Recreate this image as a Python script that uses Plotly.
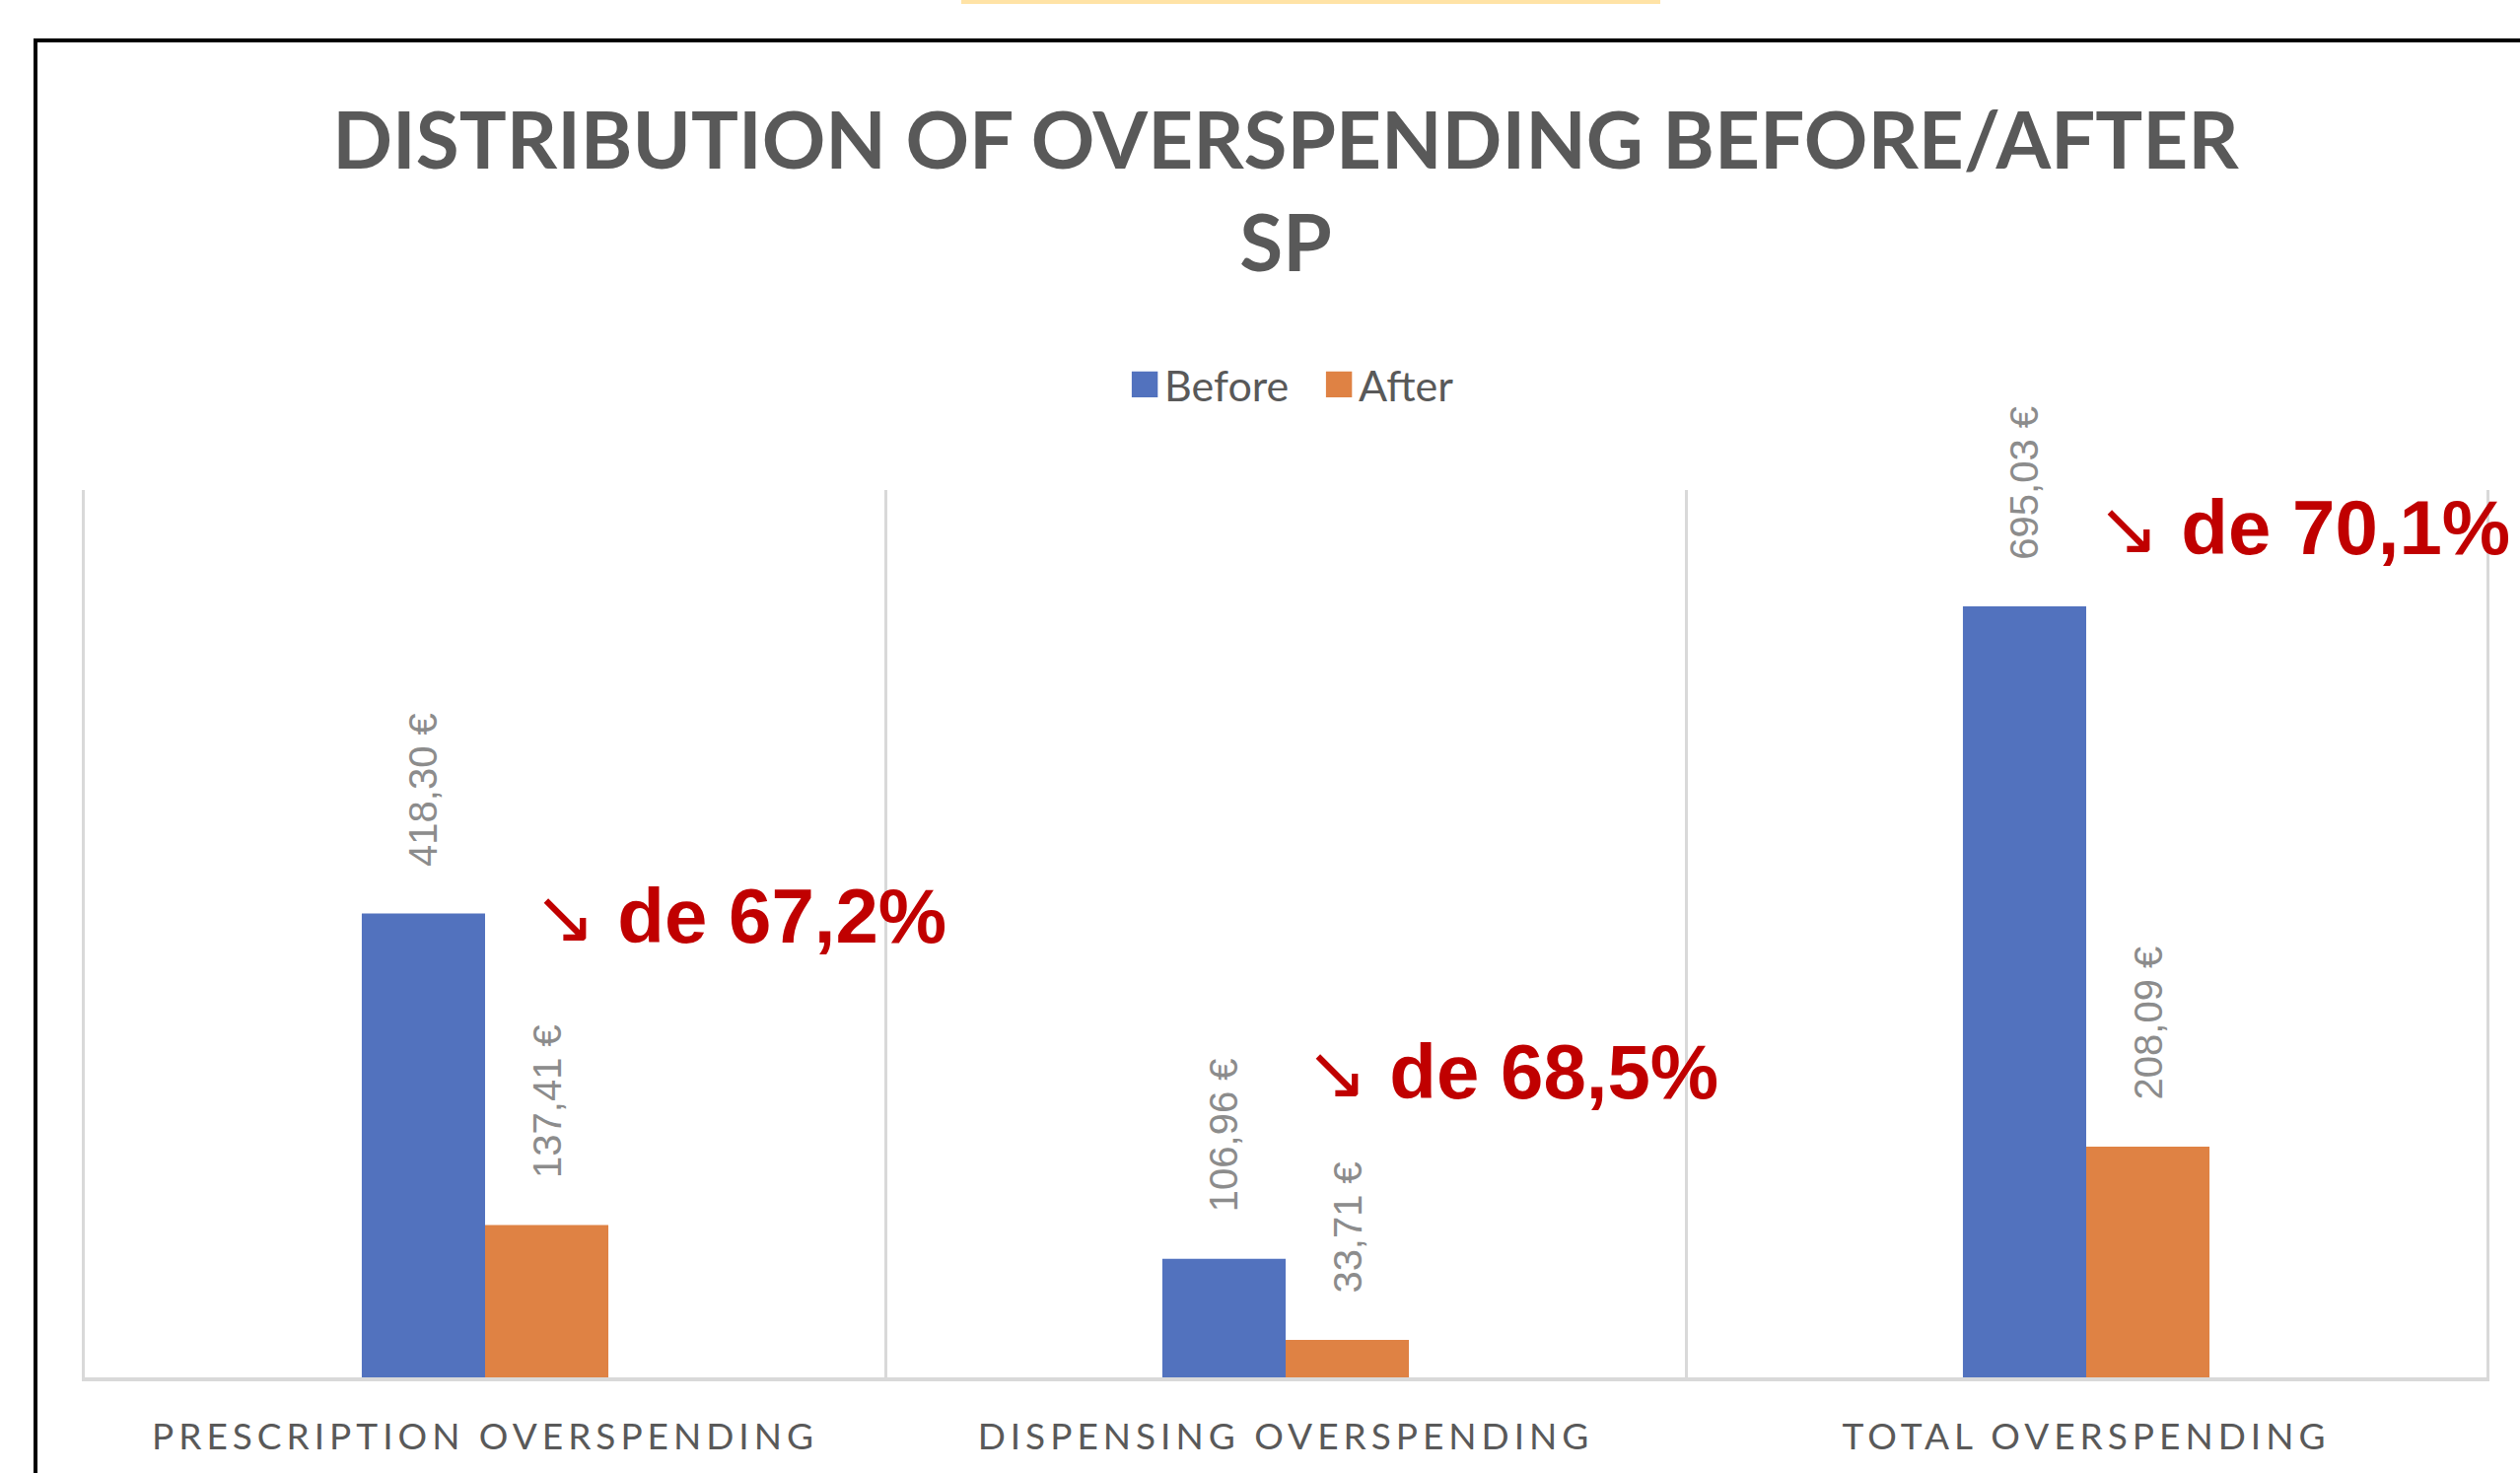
import plotly.graph_objects as go

categories = ["PRESCRIPTION OVERSPENDING", "DISPENSING OVERSPENDING", "TOTAL OVERSPENDING"]
before_vals = [418.30, 106.96, 695.03]
after_vals = [137.41, 33.71, 208.09]
series_names = ["Before", "After"]
title_text = "DISTRIBUTION OF OVERSPENDING BEFORE/AFTER<br>SP"

# annotation placement (paper coords)
annot_x = [0.1860, 0.5075, 0.8370]
annot_y = [0.5200, 0.3444, 0.9567]

BLUE = "#5272BE"
ORANGE = "#DF8244"
GREY_TXT = "#595959"
LABEL_GREY = "#8C8C8C"
GRID = "#D9D9D9"
RED = "#C00000"

pad = "\u00a0" * 4
fig = go.Figure()
for name, vals, col in [(series_names[0], before_vals, BLUE), (series_names[1], after_vals, ORANGE)]:
    fig.add_trace(go.Bar(
        name=name, x=categories, y=vals, marker=dict(color=col, line=dict(width=0)),
        texttemplate=pad + "%{y:.2f} €", textposition="outside", textangle=-90,
        textfont=dict(family="Liberation Sans, Arial", size=40, color=LABEL_GREY),
        cliponaxis=False, constraintext="none", hoverinfo="skip",
    ))

annotations = []
for i in range(3):
    pct = (before_vals[i] - after_vals[i]) / before_vals[i] * 100
    txt = ('<span style="font-family:DejaVu Sans;font-weight:normal;font-size:76px">↘</span> de '
           + f"{pct:.1f}".replace(".", ",") + "%")
    annotations.append(dict(
        x=annot_x[i], y=annot_y[i], xref="paper", yref="paper", xanchor="left", yanchor="middle",
        text=txt, showarrow=False,
        font=dict(family="Liberation Sans, Arial", size=78, color=RED, weight="bold"),
    ))

fig.update_layout(
    width=2556, height=1494,
    margin=dict(l=86, r=34, t=497, b=97),
    paper_bgcolor="white", plot_bgcolor="white",
    separators=", ",
    barmode="group", bargap=0.692, bargroupgap=0,
    title=dict(text=title_text, x=0.5, xref="paper", y=1 - 171 / 1494, yref="container",
               xanchor="center", yanchor="middle",
               font=dict(family="Lato", size=80, color=GREY_TXT, weight="bold")),
    legend=dict(orientation="h", x=0.514, xanchor="center", y=1.119, yanchor="middle",
                font=dict(family="Lato", size=43, color=GREY_TXT), traceorder="normal",
                itemclick=False, entrywidth=152),
    xaxis=dict(tickson="boundaries", showgrid=True, gridcolor=GRID, gridwidth=3,
               ticks="", showline=True, linecolor=GRID, linewidth=4,
               tickfont=dict(family="Lato", size=37, color=GREY_TXT),
               ticklabelstandoff=25, range=[-0.5, 2.5]),
    yaxis=dict(range=[0, 800], showgrid=False, zeroline=False, showticklabels=False,
               ticks="", showline=True, mirror=True, linecolor=GRID, linewidth=3),
    annotations=annotations,
    shapes=[
        dict(type="rect", xref="paper", yref="paper", x0=(36 - 86) / 2436, x1=1.2,
             y0=-0.5, y1=(1397 - 41) / 900, line=dict(color="black", width=4), layer="above"),
        dict(type="rect", xref="paper", yref="paper", x0=(975 - 86) / 2436, x1=(1684 - 86) / 2436,
             y0=(1397 - 4) / 900, y1=(1397 + 2) / 900, fillcolor="#FFE3A6", line=dict(width=0)),
    ],
    showlegend=True,
)

post = """
var s=document.createElement('style');
s.textContent='html,body{margin:0;padding:0;overflow:hidden} .xtick text{letter-spacing:5px}';
document.head.appendChild(s);
document.querySelectorAll('.legend .legendpoints path').forEach(function(p){
  var t=p.getAttribute('transform')||''; p.setAttribute('transform', t+' scale(2.2)');
});
"""
fig.write_html("out.html", post_script=post, config={"displayModeBar": False})
